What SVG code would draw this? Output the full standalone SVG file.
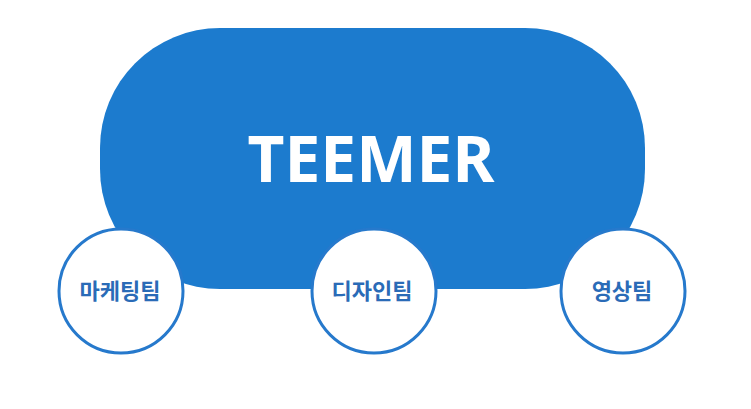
<svg xmlns="http://www.w3.org/2000/svg" width="751" height="409" viewBox="0 0 751 409">
<style>
.team circle{fill:#ffffff;stroke:#2679cc;stroke-width:3}
.team text{font-family:"Noto Sans CJK KR","Noto Sans",sans-serif;font-weight:700;font-size:22px;fill:#2a6bb7;text-anchor:middle}
</style>
<rect width="751" height="409" fill="#ffffff"/>
<g id="teemer">
<rect x="100" y="28" width="545" height="261" rx="120" ry="120" fill="#1c7bce"/>
<text x="371" y="182" font-family="'Noto Sans','Open Sans',sans-serif" font-weight="700" font-size="64" fill="#ffffff" text-anchor="middle">TEEMER</text>
</g>
<g id="connectors"></g>
<g id="marketing" class="team">
<circle cx="121" cy="291" r="62"/>
<text x="120" y="299">마케팅팀</text>
</g>
<g id="design" class="team">
<circle cx="374" cy="291" r="62"/>
<text x="372" y="299">디자인팀</text>
</g>
<g id="video" class="team">
<circle cx="623" cy="291" r="62"/>
<text x="622" y="299">영상팀</text>
</g>
</svg>
